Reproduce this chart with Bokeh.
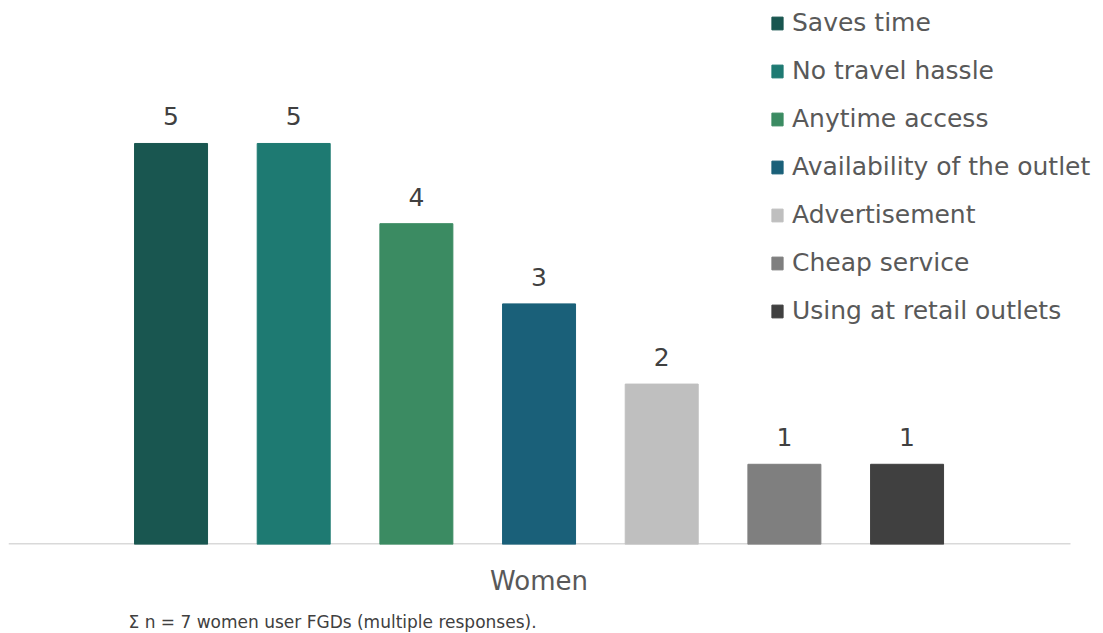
from bokeh.plotting import figure
from bokeh.models import ColumnDataSource, Range1d, FixedTicker, LabelSet, Title
from bokeh.core.properties import value
from bokeh.embed import file_html
from bokeh.resources import INLINE

categories = ["Saves time", "No travel hassle", "Anytime access", "Availability of the outlet",
              "Advertisement", "Cheap service", "Using at retail outlets"]
values = [5, 5, 4, 3, 2, 1, 1]
colors = ["#195650", "#1e7a72", "#3b8b62", "#1a6079", "#bfbfbf", "#7f7f7f", "#404040"]
group_label = "Women"
footnote = "Σ n = 7 women user FGDs (multiple responses)."

FONT = "DejaVu Sans"
xs = list(range(len(categories)))
src = ColumnDataSource(dict(x=xs, top=values, color=colors, label=categories,
                            text=[str(v) for v in values]))

PX_PER_UNIT = 122.67
X0 = -1.325
FRAME_W = 1092
AXIS_W = 1062

p = figure(frame_width=FRAME_W, frame_height=536, output_backend="svg", toolbar_location=None,
           x_range=Range1d(X0, X0 + FRAME_W / PX_PER_UNIT), y_range=Range1d(0, 6.683),
           min_border_left=8, min_border_right=0, min_border_top=8, min_border_bottom=0)
p.outline_line_color = None
p.grid.visible = False
p.yaxis.visible = False

# baseline (category axis line), shorter than frame so the legend can extend past it
p.segment(x0=[X0], y0=[0], x1=[X0 + AXIS_W / PX_PER_UNIT], y1=[0],
          line_color="#d9d9d9", line_width=3)

r = p.vbar(x="x", top="top", width=0.595, color="color", legend_field="label", source=src)

labels = LabelSet(x="x", y="top", text="text", source=src, y_offset=18,
                  text_align="center", text_baseline="bottom", text_font_size="25px",
                  text_color="#404040", text_font=value(FONT))
p.add_layout(labels)

ax = p.xaxis[0]
ax.ticker = FixedTicker(ticks=[3])
ax.major_label_overrides = {3: group_label}
ax.major_tick_line_color = None
ax.minor_tick_line_color = None
ax.axis_line_color = None
ax.major_label_text_font_size = "26px"
ax.major_label_text_color = "#595959"
ax.major_label_text_font = FONT
ax.major_label_standoff = 15

p.add_layout(Title(text=footnote, align="left", offset=120, text_font_size="17px",
                   text_font_style="normal", text_color="#404040", text_font=FONT,
                   standoff=23), "below")

leg = p.legend[0]
leg.location = (762, 219)
leg.orientation = "vertical"
leg.label_text_font_size = "25px"
leg.label_text_font = FONT
leg.label_text_color = "#595959"
leg.glyph_width = 14
leg.glyph_height = 16
leg.label_height = 26
leg.label_standoff = 8
leg.spacing = 19
leg.padding = 0
leg.margin = 0
leg.border_line_color = None
leg.background_fill_alpha = 0

open("out.html", "w").write(file_html(p, INLINE))
